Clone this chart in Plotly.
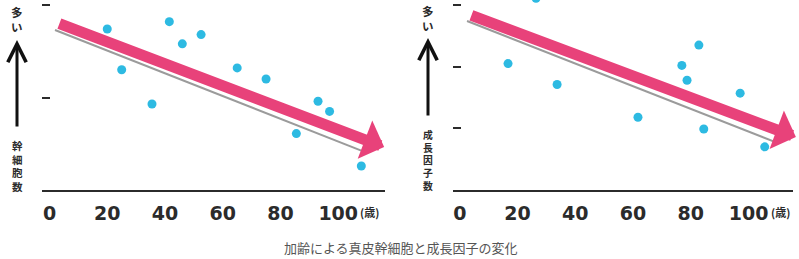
import plotly.graph_objects as go

# ---------------- data ----------------
age_stem = [20, 25, 35.5, 41.5, 46, 52.5, 65, 75, 85.5, 93, 97, 108]
stem_cells = [1.74, 1.30, 0.93, 1.82, 1.58, 1.68, 1.32, 1.20, 0.61, 0.96, 0.85, 0.26]

age_growth = [16.7, 26.4, 33.7, 61.7, 76.9, 78.7, 82.8, 84.5, 97.1, 105.6]
growth_factors = [2.05, 3.11, 1.71, 1.18, 2.02, 1.78, 2.35, 0.99, 1.57, 0.70]

x_ticks = [0, 20, 40, 60, 80, 100]
x_ticktext = ["0", "20", "40", "60", "80", "100"]
age_unit = "(歳)"
stem_ticks = [1, 2]
growth_ticks = [1, 2, 3]

# trend arrows (tail -> head), data coordinates
trend_stem = [(2.9, 1.805), (115.9, 0.465)]
trend_stem_shadow = [(1.9, 1.73), (109.3, 0.41)]
trend_growth = [(3.5, 2.84), (116.4, 0.86)]
trend_growth_shadow = [(2.5, 2.74), (110.2, 0.76)]

label_many = "多い"
label_stem = "幹細胞数"
label_growth = "成長因子数"
caption = "加齢による真皮幹細胞と成長因子の変化"

# ---------------- style ----------------
W, H = 799, 259
PINK = "#E8427A"
CYAN = "#2DBAE2"
DARK = "#2b2b2b"
GREY = "#9b9b9b"
CJK = "Noto Sans CJK JP"


def px(x):
    return x / W


def py(y):
    return 1 - y / H


fig = go.Figure()
fig.add_trace(go.Scatter(x=age_stem, y=stem_cells, mode="markers",
                         marker=dict(color=CYAN, size=9), xaxis="x", yaxis="y",
                         hoverinfo="skip"))
fig.add_trace(go.Scatter(x=age_growth, y=growth_factors, mode="markers",
                         marker=dict(color=CYAN, size=9), xaxis="x2", yaxis="y2",
                         hoverinfo="skip"))

xaxis_common = dict(
    tickmode="array", tickvals=x_ticks, ticktext=x_ticktext,
    showgrid=False, zeroline=False, showline=True, linecolor=DARK, linewidth=2,
    ticks="", ticklabelstandoff=5,
    tickfont=dict(family="DejaVu Sans", size=19, color=DARK, weight="bold"),
    fixedrange=True,
)
yaxis_common = dict(
    showgrid=False, zeroline=False, showline=False, showticklabels=False,
    ticks="inside", ticklen=8, tickwidth=2, tickcolor=DARK, fixedrange=True,
)

y_dom = [1 - 190 / H, 1.0]
fig.update_layout(
    width=W, height=H, autosize=False,
    margin=dict(l=0, r=0, t=0, b=0),
    paper_bgcolor="white", plot_bgcolor="white",
    showlegend=False,
    xaxis=dict(domain=[px(42), px(385)], range=[-2.6, 116.2], anchor="y", **xaxis_common),
    yaxis=dict(domain=y_dom, range=[0, 190 / 92.5], anchor="x",
               tickmode="array", tickvals=stem_ticks, **yaxis_common),
    xaxis2=dict(domain=[px(453), px(793)], range=[-2.36, 115.4], anchor="y2", **xaxis_common),
    yaxis2=dict(domain=y_dom, range=[0, 190 / 61.67], anchor="x2",
                tickmode="array", tickvals=growth_ticks, **yaxis_common),
)

shapes = []
annotations = []

# shadows under the trend arrows
for (p0, p1), xr, yr in [(trend_stem_shadow, "x", "y"), (trend_growth_shadow, "x2", "y2")]:
    shapes.append(dict(type="line", xref=xr, yref=yr, x0=p0[0], y0=p0[1], x1=p1[0], y1=p1[1],
                       line=dict(color=GREY, width=2)))

# pink trend arrows
for (p0, p1), xr, yr in [(trend_stem, "x", "y"), (trend_growth, "x2", "y2")]:
    annotations.append(dict(x=p1[0], y=p1[1], ax=p0[0], ay=p0[1], xref=xr, yref=yr,
                            axref=xr, ayref=yr, text="", showarrow=True,
                            arrowhead=1, arrowsize=0.62, arrowwidth=11, arrowcolor=PINK,
                            standoff=0, startstandoff=0))

# "(歳)" unit after 100
for xr in ["x", "x2"]:
    annotations.append(dict(x=100, y=py(212), xref=xr, yref="paper", yanchor="middle",
                            xanchor="left", xshift=20, text=age_unit, showarrow=False,
                            font=dict(family=CJK, size=11, color=DARK, weight="bold")))

# y-axis labels and up arrows
for cx, top_y, lab, lab_mid, lab_size, arrow_tip, arrow_tail in [
    (17, 19.5, label_stem, 165.5, 10.5, 40, 128),
    (428, 19, label_growth, 160, 9.8, 38, 117),
]:
    annotations.append(dict(x=px(cx), y=py(top_y), xref="paper", yref="paper",
                            text="<br>".join(label_many), showarrow=False,
                            xanchor="center", yanchor="middle",
                            font=dict(family=CJK, size=11.5, color=DARK, weight="bold")))
    annotations.append(dict(x=px(cx), y=py(lab_mid), xref="paper", yref="paper",
                            text="<br>".join(lab), showarrow=False,
                            xanchor="center", yanchor="middle",
                            font=dict(family=CJK, size=lab_size, color=DARK, weight="bold")))
    annotations.append(dict(x=px(cx), y=py(arrow_tip), xref="paper", yref="paper",
                            ax=0, ay=arrow_tail - arrow_tip, axref="pixel", ayref="pixel",
                            text="", showarrow=True, arrowhead=5, arrowsize=1.2,
                            arrowwidth=3, arrowcolor="#111111", standoff=0, startstandoff=0))

# caption
annotations.append(dict(x=px(401), y=py(247), xref="paper", yref="paper", text=caption,
                        showarrow=False, xanchor="center", yanchor="middle",
                        font=dict(family=CJK, size=13, color="#555555")))

fig.update_layout(shapes=shapes, annotations=annotations)
fig.write_html("out.html")
